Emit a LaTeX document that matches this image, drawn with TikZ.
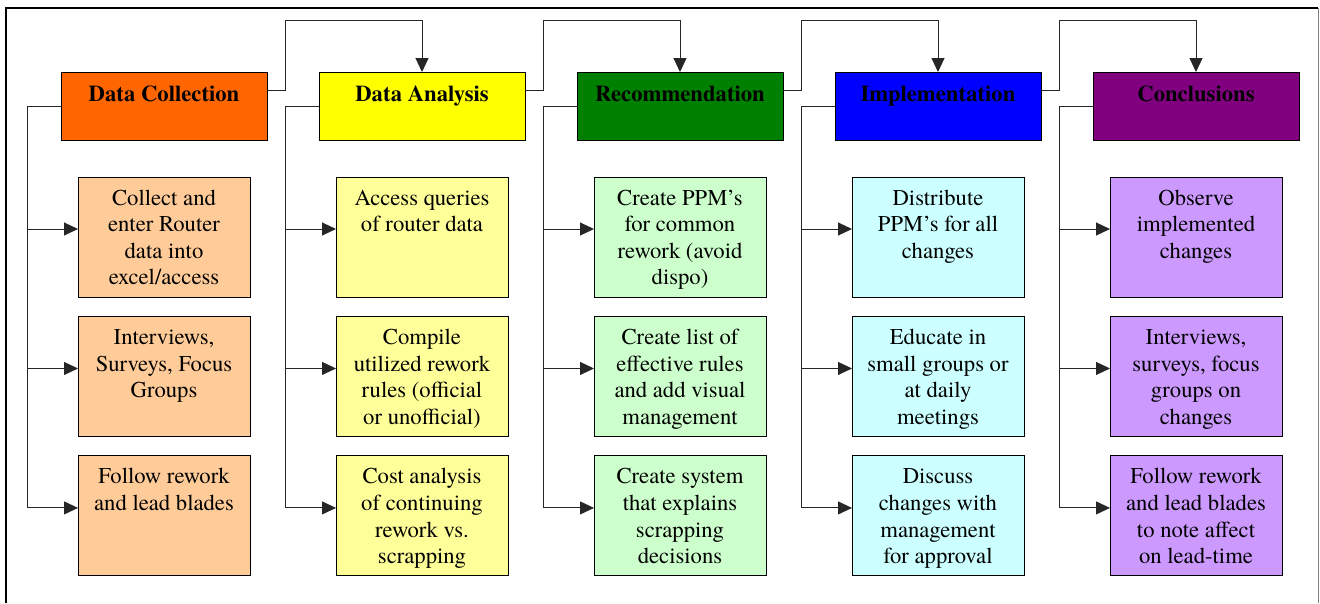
\documentclass[tikz,border=0pt]{standalone}
\usepackage{fontspec}
\setmainfont{texgyretermes}[Extension=.otf, UprightFont=*-regular, BoldFont=*-bold, ItalicFont=*-italic, BoldItalicFont=*-bolditalic]
\usetikzlibrary{positioning, arrows.meta}

\definecolor{collhead}{HTML}{FF6600}
\definecolor{collbox}{HTML}{FFCC99}
\definecolor{anahead}{HTML}{FFFF00}
\definecolor{anabox}{HTML}{FFFF99}
\definecolor{rechead}{HTML}{008000}
\definecolor{recbox}{HTML}{CCFFCC}
\definecolor{imphead}{HTML}{0000FF}
\definecolor{impbox}{HTML}{CCFFFF}
\definecolor{conhead}{HTML}{800080}
\definecolor{conbox}{HTML}{CC99FF}

\tikzstyle{head} = [rectangle, draw=black, line width=0.75pt, inner sep=0pt, outer sep=0pt]
\tikzstyle{task} = [rectangle, draw=black, line width=0.75pt, inner sep=0pt, outer sep=0pt]
\tikzstyle{arrow} = [line width=0.75pt, draw=black!85, ->, >={Triangle[length=10.5pt,width=9.75pt]}]

\newcommand{\headtext}[1]{\parbox[c][51pt][t]{154.5pt}{\fontsize{17pt}{19.9pt}\selectfont\bfseries\centering\vspace*{8.4pt}\strut#1}}
\newcommand{\tasktext}[1]{\parbox[c][90pt][t]{129pt}{\fontsize{17pt}{19.9pt}\selectfont\centering\vspace*{7.1pt}\strut#1}}

\begin{document}
\begin{tikzpicture}[x=0.75pt, y=-0.75pt]
\useasboundingbox (0,0) rectangle (1320,603);

%% FRAME
\draw[line width=1.5pt] (6,603) -- (6,8) -- (1318,8);
\draw[gray, line width=0.75pt] (1318,8) -- (1318,603);

%% NODES
\node (hd1) [head, fill=collhead] at (164,106) {\headtext{Data Collection}};
\node (hd2) [head, fill=anahead, right=39pt of hd1] {\headtext{Data Analysis}};
\node (hd3) [head, fill=rechead, right=39pt of hd2] {\headtext{Recommendation}};
\node (hd4) [head, fill=imphead, right=39pt of hd3] {\headtext{Implementation}};
\node (hd5) [head, fill=conhead, right=39pt of hd4] {\headtext{Conclusions}};

\node (c11) [task, fill=collbox, below=27.75pt of hd1] {\tasktext{Collect and\\ enter Router\\ data into\\ excel/access}};
\node (c12) [task, fill=collbox, below=14.6pt of c11] {\tasktext{Interviews,\\ Surveys, Focus\\ Groups}};
\node (c13) [task, fill=collbox, below=14.6pt of c12] {\tasktext{Follow rework\\ and lead blades}};

\node (c21) [task, fill=anabox, below=27.75pt of hd2] {\tasktext{Access queries\\ of router data}};
\node (c22) [task, fill=anabox, below=14.6pt of c21] {\tasktext{Compile\\ utilized rework\\ rules (official\\ or unofficial)}};
\node (c23) [task, fill=anabox, below=14.6pt of c22] {\tasktext{Cost analysis\\ of continuing\\ rework vs.\\ scrapping}};

\node (c31) [task, fill=recbox, below=27.75pt of hd3] {\tasktext{Create PPM’s\\ for common\\ rework (avoid\\ dispo)}};
\node (c32) [task, fill=recbox, below=14.6pt of c31] {\tasktext{Create list of\\ effective rules\\ and add visual\\ management}};
\node (c33) [task, fill=recbox, below=14.6pt of c32] {\tasktext{Create system\\ that explains\\ scrapping\\ decisions}};

\node (c41) [task, fill=impbox, below=27.75pt of hd4] {\tasktext{Distribute\\ PPM’s for all\\ changes}};
\node (c42) [task, fill=impbox, below=14.6pt of c41] {\tasktext{Educate in\\ small groups or\\ at daily\\ meetings}};
\node (c43) [task, fill=impbox, below=14.6pt of c42] {\tasktext{Discuss\\ changes with\\ management\\ for approval}};

\node (c51) [task, fill=conbox, below=27.75pt of hd5] {\tasktext{Observe\\ implemented\\ changes}};
\node (c52) [task, fill=conbox, below=14.6pt of c51] {\tasktext{Interviews,\\ surveys, focus\\ groups on\\ changes}};
\node (c53) [task, fill=conbox, below=14.6pt of c52] {\tasktext{Follow rework\\ and lead blades\\ to note affect\\ on lead-time}};

%% ARROWS
\draw [arrow] ([yshift=12pt]hd1.east) -- ++(18,0) |- ([yshift=39pt]hd2.north) -- (hd2.north);
\draw [arrow] ([yshift=12pt]hd2.east) -- ++(18,0) |- ([yshift=39pt]hd3.north) -- (hd3.north);
\draw [arrow] ([yshift=12pt]hd3.east) -- ++(18,0) |- ([yshift=39pt]hd4.north) -- (hd4.north);
\draw [arrow] ([yshift=12pt]hd4.east) -- ++(18,0) |- ([yshift=39pt]hd5.north) -- (hd5.north);

\draw [arrow] (hd1.west) -- ++(-34,0) |- ([yshift=6pt]c11.west);
\draw [arrow] (hd1.west) -- ++(-34,0) |- ([yshift=6pt]c12.west);
\draw [arrow] (hd1.west) -- ++(-34,0) |- ([yshift=6pt]c13.west);
\draw [arrow] (hd2.west) -- ++(-34,0) |- ([yshift=6pt]c21.west);
\draw [arrow] (hd2.west) -- ++(-34,0) |- ([yshift=6pt]c22.west);
\draw [arrow] (hd2.west) -- ++(-34,0) |- ([yshift=6pt]c23.west);
\draw [arrow] (hd3.west) -- ++(-34,0) |- ([yshift=6pt]c31.west);
\draw [arrow] (hd3.west) -- ++(-34,0) |- ([yshift=6pt]c32.west);
\draw [arrow] (hd3.west) -- ++(-34,0) |- ([yshift=6pt]c33.west);
\draw [arrow] (hd4.west) -- ++(-34,0) |- ([yshift=6pt]c41.west);
\draw [arrow] (hd4.west) -- ++(-34,0) |- ([yshift=6pt]c42.west);
\draw [arrow] (hd4.west) -- ++(-34,0) |- ([yshift=6pt]c43.west);
\draw [arrow] (hd5.west) -- ++(-34,0) |- ([yshift=6pt]c51.west);
\draw [arrow] (hd5.west) -- ++(-34,0) |- ([yshift=6pt]c52.west);
\draw [arrow] (hd5.west) -- ++(-34,0) |- ([yshift=6pt]c53.west);
\end{tikzpicture}
\end{document}
